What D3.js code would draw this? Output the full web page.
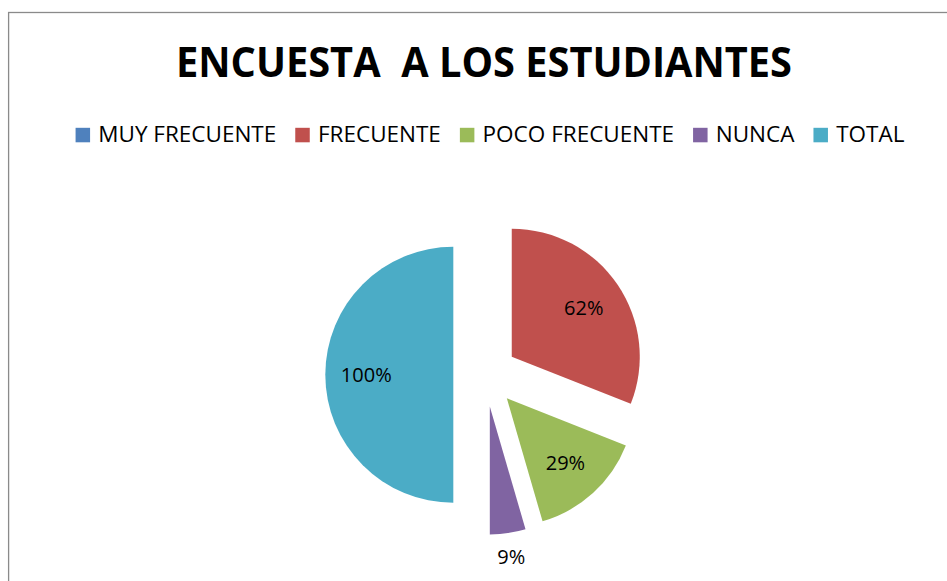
<!DOCTYPE html>
<html>
<head>
<meta charset="utf-8">
<script src="https://cdn.jsdelivr.net/npm/d3@7"></script>
<style>
  html, body { margin: 0; padding: 0; background: #ffffff; }
  svg { display: block; }
  text { font-family: "Open Sans", "Liberation Sans", sans-serif; }
</style>
</head>
<body>
<svg id="chart" width="947" height="581"></svg>
<script>
// Survey answers and their shares
const categories = ["MUY FRECUENTE", "FRECUENTE", "POCO FRECUENTE", "NUNCA", "TOTAL"];
const values = [0, 62, 29, 9, 100];
const colors = ["#4F81BD", "#C0504D", "#9BBB59", "#8064A2", "#4BACC6"];
const title = "ENCUESTA  A LOS ESTUDIANTES";

const W = 947, H = 581;
const svg = d3.select("#chart");

// chart frame (runs off the right and bottom edges)
svg.append("rect")
  .attr("x", 8.6).attr("y", 12.5)
  .attr("width", W + 20).attr("height", H + 20)
  .attr("fill", "#ffffff")
  .attr("stroke", "#8a8a8a").attr("stroke-width", 1.3);

// title
svg.append("text")
  .attr("x", 484).attr("y", 77.3)
  .attr("text-anchor", "middle")
  .attr("font-size", 40.5)
  .attr("font-weight", "bold")
  .attr("fill", "#000000")
  .style("white-space", "pre")
  .attr("textLength", 616)
  .attr("lengthAdjust", "spacingAndGlyphs")
  .text(title);

// legend
const legendFont = 21;
const box = 14.5, boxGap = 8.2, itemGap = 19;
const legend = svg.append("g");
const items = legend.selectAll("g.item")
  .data(categories)
  .join("g").attr("class", "item");
items.append("rect")
  .attr("width", box).attr("height", box)
  .attr("y", 127.8)
  .attr("fill", (d, i) => colors[i]);
items.append("text")
  .attr("y", 142.3)
  .attr("font-size", legendFont)
  .attr("fill", "#000000")
  .text(d => d);

// measure text and lay items out left to right, centred
let widths = [];
items.select("text").each(function () { widths.push(this.getComputedTextLength()); });
const target0 = 182.6;              // width of the first label
const k = target0 / widths[0];
items.select("text").attr("font-size", Math.min(legendFont * k, 22.5));
widths = [];
items.select("text").each(function () { widths.push(this.getComputedTextLength()); });
const totalW = widths.reduce((a, w) => a + box + boxGap + w, 0) + itemGap * (widths.length - 1);
let x = 490 - totalW / 2;
items.each(function (d, i) {
  const g = d3.select(this);
  g.select("rect").attr("x", x);
  g.select("text").attr("x", x + box + boxGap);
  x += box + boxGap + widths[i] + itemGap;
});

// exploded pie
const cx = 485.3, cy = 374.7, r = 128, explode = 32;
const pie = d3.pie().sort(null).value(d => d.value).startAngle(0).endAngle(2 * Math.PI);
const arcs = pie(categories.map((c, i) => ({ name: c, value: values[i], color: colors[i] })));
const arc = d3.arc().innerRadius(0).outerRadius(r);

const slices = svg.append("g").attr("transform", `translate(${cx},${cy})`);
const shown = arcs.filter(a => a.value > 0);

slices.selectAll("path")
  .data(shown)
  .join("path")
  .attr("transform", a => {
    const m = (a.startAngle + a.endAngle) / 2;
    return `translate(${explode * Math.sin(m)},${-explode * Math.cos(m)})`;
  })
  .attr("d", arc)
  .attr("fill", a => a.data.color);

// data labels: inside for wide slices, outside for narrow ones
slices.selectAll("text.lbl")
  .data(shown)
  .join("text").attr("class", "lbl")
  .each(function (a) {
    const m = (a.startAngle + a.endAngle) / 2;
    const narrow = (a.endAngle - a.startAngle) < 0.4;
    const rr = explode + (narrow ? r * 1.19 : r * 0.68);
    d3.select(this)
      .attr("x", rr * Math.sin(m))
      .attr("y", -rr * Math.cos(m) + 7);
  })
  .attr("text-anchor", "middle")
  .attr("font-size", 20)
  .attr("fill", "#000000")
  .text(a => a.data.value + "%");
</script>
</body>
</html>
